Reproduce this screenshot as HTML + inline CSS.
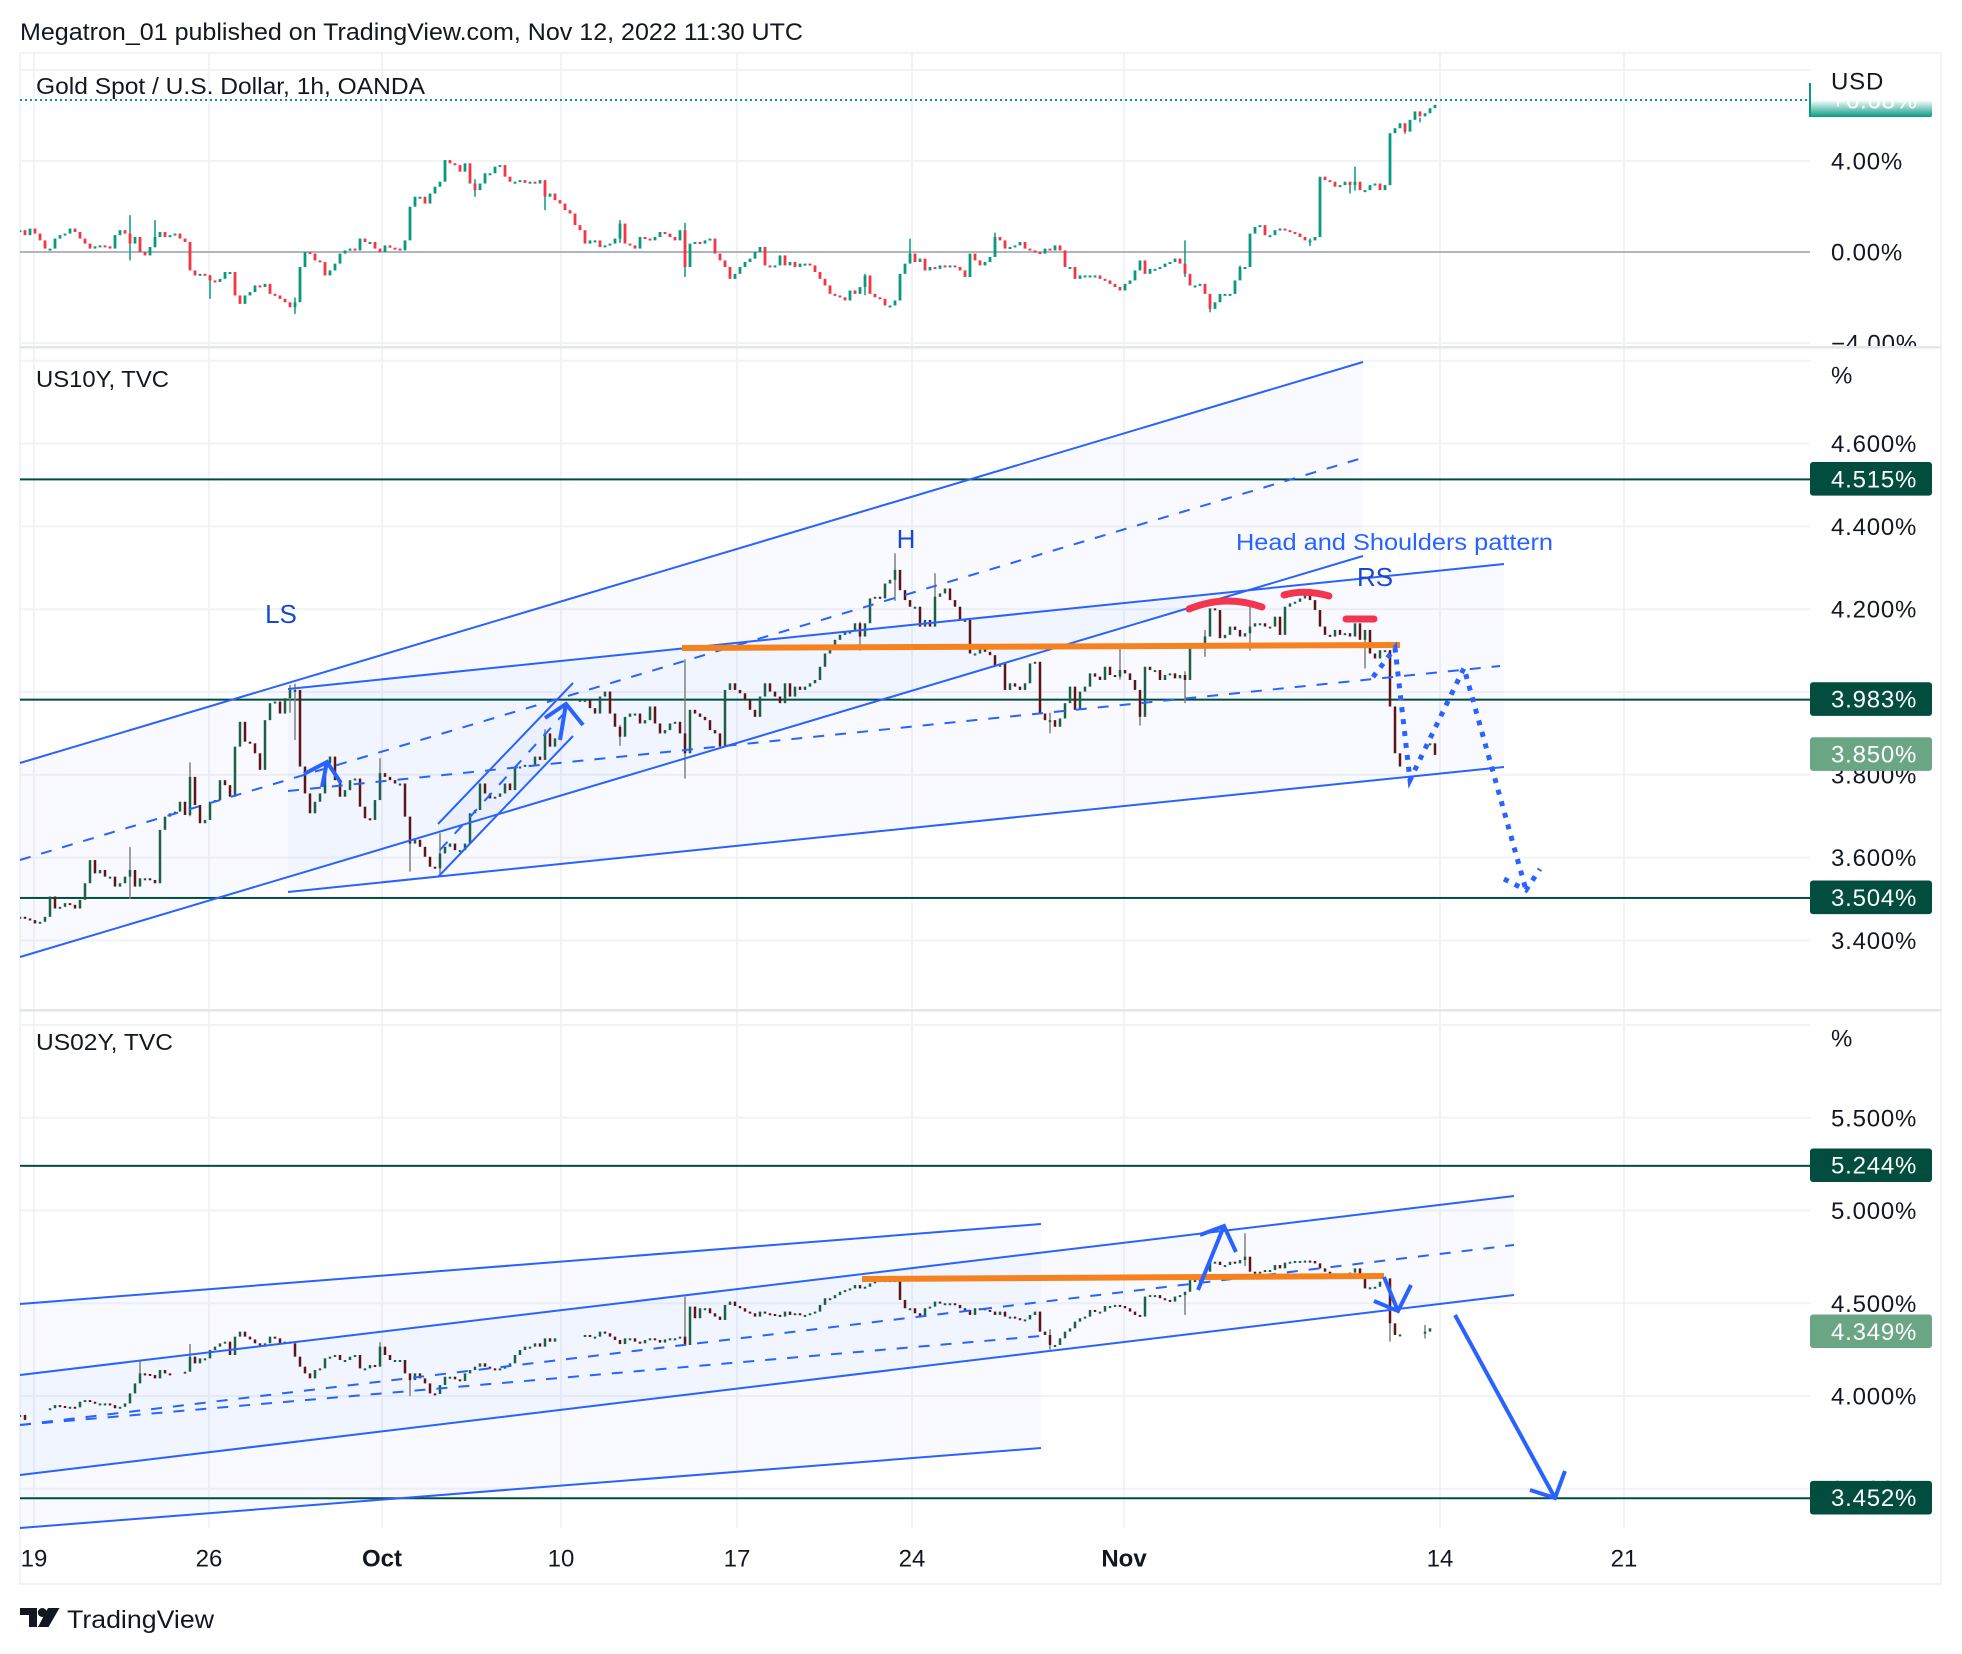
<!DOCTYPE html>
<html lang="en">
<head>
<meta charset="utf-8">
<title>Gold vs US10Y vs US02Y</title>
<style>
html,body{margin:0;padding:0;background:#fff;}
svg{display:block;font-family:"Liberation Sans",sans-serif;}
.ax{font-size:24px;fill:#131722;letter-spacing:.8px;}
.title{font-size:23px;fill:#131722;}
.draw{fill:none;stroke:#2962ff;stroke-width:2;}
.dash{stroke-dasharray:11 11;}
.arrow{fill:none;stroke:#2962ff;stroke-width:4;stroke-linejoin:miter;}
.dots{fill:none;stroke:#2962ff;stroke-width:5;stroke-dasharray:5 7;}
.orange{stroke:#f5821f;stroke-width:6;fill:none;}
.redarc{stroke:#f23650;stroke-width:7;stroke-linecap:round;fill:none;}
.chan{fill:rgba(41,98,255,.03);stroke:none;}
</style>
</head>
<body>
<svg id="root" xmlns="http://www.w3.org/2000/svg" width="1962" height="1654" viewBox="0 0 1962 1654">
  <defs>
    <clipPath id="goldClip"><rect x="20" y="54" width="1790" height="292"/></clipPath>
    <clipPath id="p2Clip"><rect x="20" y="348" width="1790" height="661"/></clipPath>
    <clipPath id="p3Clip"><rect x="20" y="1011" width="1790" height="517"/></clipPath>
    <clipPath id="goldAxisClip"><rect x="1812" y="54" width="128" height="292"/></clipPath>
    <clipPath id="badgeClip"><rect x="1810" y="100" width="122" height="17"/></clipPath>
    <linearGradient id="badgeGrad" x1="0" y1="0" x2="0" y2="1">
      <stop offset="0" stop-color="#089981" stop-opacity="0"/>
      <stop offset="1" stop-color="#089981"/>
    </linearGradient>
  </defs>

  <text x="20" y="40" font-size="24" fill="#131722" textLength="783" lengthAdjust="spacingAndGlyphs">Megatron_01 published on TradingView.com, Nov 12, 2022 11:30 UTC</text>
  <rect x="20" y="53" width="1921" height="1531" fill="none" stroke="#f0f3fa" stroke-width="2"/>

  <g id="grid"></g>
  <g id="fills">
    <polygon class="chan" points="20,763 1363,362 1363,556 20,957"/>
    <polygon class="chan" points="288,689 1504,564 1504,767 288,892"/>
    <polygon class="chan" points="438,824 573,683 573,736 438,877"/>
    <polygon class="chan" points="20,1304 1041,1224 1041,1448 20,1528"/>
    <polygon class="chan" points="20,1375 1514,1196 1514,1295 20,1475"/>
  </g>
  <g id="levels"></g>
  <g id="candlesGold" clip-path="url(#goldClip)"></g>
  <g id="candles10" clip-path="url(#p2Clip)"></g>
  <g id="candles02" clip-path="url(#p3Clip)"></g>

  <g id="drawingsP2">
    <line class="draw" x1="20" y1="763" x2="1363" y2="362"/>
    <line class="draw dash" x1="20" y1="860" x2="1359" y2="459"/>
    <line class="draw" x1="20" y1="957" x2="1363" y2="556"/>
    <line class="draw" x1="288" y1="689" x2="1504" y2="564"/>
    <line class="draw dash" x1="288" y1="791" x2="1500" y2="666"/>
    <line class="draw" x1="288" y1="892" x2="1504" y2="767"/>
    <line class="draw" x1="438" y1="824" x2="573" y2="683"/>
    <line class="draw dash" x1="440" y1="850" x2="567" y2="710"/>
    <line class="draw" x1="438" y1="877" x2="573" y2="736"/>
    <path class="arrow" d="M322 787 L327 762 M304 774 L327 762 L341 783"/>
    <path class="arrow" d="M560 740 L566 704 M545 718 L566 704 L583 725"/>
    <line class="orange" x1="682" y1="648" x2="1400" y2="645"/>
    <path class="redarc" d="M1189 609 Q1225 594 1262 607"/>
    <path class="redarc" d="M1284 595 Q1305 589 1329 596"/>
    <line class="redarc" x1="1346" y1="619" x2="1374" y2="619"/>
    <path class="dots" d="M1373 677 L1395 648 L1410 780 L1464 668 L1526 890 M1504 879 L1526 890 L1540 869"/>
    <text x="281" y="623" font-size="26" fill="#1848cc" text-anchor="middle">LS</text>
    <text x="906" y="548" font-size="26" fill="#1848cc" text-anchor="middle">H</text>
    <text x="1375" y="586" font-size="26" fill="#1848cc" text-anchor="middle">RS</text>
    <text x="1236" y="550" font-size="23" fill="#2962ff" textLength="317" lengthAdjust="spacingAndGlyphs">Head and Shoulders pattern</text>
  </g>

  <g id="drawingsP3">
    <line class="draw" x1="20" y1="1304" x2="1041" y2="1224"/>
    <line class="draw dash" x1="20" y1="1425" x2="1041" y2="1336"/>
    <line class="draw" x1="20" y1="1528" x2="1041" y2="1448"/>
    <line class="draw" x1="20" y1="1375" x2="1514" y2="1196"/>
    <line class="draw dash" x1="20" y1="1425" x2="1514" y2="1245"/>
    <line class="draw" x1="20" y1="1475" x2="1514" y2="1295"/>
    <line class="orange" x1="862" y1="1279" x2="1384" y2="1276"/>
    <path class="arrow" d="M1198 1290 L1224 1226 M1200 1235 L1224 1226 L1236 1252"/>
    <path class="arrow" d="M1384 1277 L1398 1311 M1374 1301 L1398 1311 L1411 1285"/>
    <path class="arrow" d="M1455 1315 L1555 1498 M1530 1490 L1555 1498 L1565 1471"/>
  </g>

  <g id="axes"></g>
  <text class="title" x="36" y="94" textLength="389" lengthAdjust="spacingAndGlyphs">Gold Spot / U.S. Dollar, 1h, OANDA</text>
  <text class="title" x="36" y="387" textLength="133" lengthAdjust="spacingAndGlyphs">US10Y, TVC</text>
  <text class="title" x="36" y="1050" textLength="137" lengthAdjust="spacingAndGlyphs">US02Y, TVC</text>

  <g>
    <path d="M20 1608 H37 V1627 H29 V1615 H20 Z" fill="#131722"/>
    <circle cx="42.3" cy="1612.5" r="4.5" fill="#131722"/>
    <path d="M48 1608 H59.5 L48.5 1627 H38 Z" fill="#131722"/>
    <text x="67" y="1628" font-size="25" fill="#131722" textLength="147" lengthAdjust="spacingAndGlyphs">TradingView</text>
  </g>
</svg>

<script>
/* Gold vs USD, percent change */
const goldCloses = [0.96,.74,1.03,.81,.51,.15,.15,.59,.74,.81,1.03,.88,.59,.37,.15,.25,.29,.25,.15,.74,.96,.81,.37,.66,0,-.15,.22,.66,.88,.66,.74,.81,.59,.44,-.81,-1.03,-.96,-1.03,-1.25,-1.32,-1.18,-.88,-.88,-1.91,-2.28,-1.91,-1.76,-1.47,-1.54,-1.4,-1.84,-1.91,-2.06,-2.21,-2.43,-2.21,-.66,0,-.07,-.37,-.44,-1.03,-.81,-.51,-.07,.07,.15,.07,.59,.44,.44,.15,0,.29,.19,.15,.07,.51,1.99,2.43,2.43,2.13,2.57,2.87,3.09,4.04,3.9,3.82,3.53,3.9,3.01,2.72,3.01,3.46,3.46,3.75,3.82,3.31,3.09,3.09,3.16,3.04,3.09,3.01,3.16,2.43,2.57,2.28,2.13,1.84,1.69,1.18,.96,.37,.51,.51,.22,.29,.37,.59,1.25,.37,.29,.15,.66,.59,.51,.66,.88,.81,.66,.51,.96,-.66,.37,.44,.37,.51,.59,-.07,-.37,-.66,-1.18,-.96,-.66,-.44,-.29,0,.22,-.59,-.66,-.59,-.15,-.59,-.44,-.66,-.51,-.51,-.59,-.88,-1.18,-1.47,-1.84,-1.91,-1.99,-2.13,-1.69,-1.84,-1.54,-1.03,-1.84,-1.99,-2.06,-2.35,-2.35,-2.13,-.96,-.51,-.07,-.44,-.29,-.81,-.66,-.74,-.59,-.66,-.59,-.66,-.81,-1.1,-.07,-.37,-.59,-.44,-.22,.66,.51,.15,.22,.29,.44,.15,.07,0,-.07,.15,.07,.29,.07,-.66,-.66,-1.18,-1.03,-1.03,-1.03,-1.03,-1.18,-1.25,-1.4,-1.54,-1.69,-1.4,-1.25,-.81,-.37,-.96,-.74,-.74,-.66,-.51,-.44,-.29,-.51,-.96,-1.47,-1.47,-1.4,-1.84,-2.5,-2.21,-1.84,-1.84,-1.84,-1.25,-.66,-.66,.81,1.1,1.18,.74,.74,.96,1.03,.96,.88,.81,.66,.51,.51,.66,3.31,3.16,3.09,2.87,2.94,3.09,2.94,3.09,2.72,2.72,2.94,3.01,2.72,2.94,5.22,5.44,5.66,5.29,5.81,6.18,5.96,6.1,6.32,6.47];
const goldWicks = [[22,1.62,-.37],[27,1.4,.2],[38,-1,-2.06],[55,-2,-2.72],[91,3.2,2.43],[105,3,1.84],[120,1.4,.4],[133,1.28,-1.1],[169,-.96,-1.9],[178,.59,-.2],[195,.85,.3],[233,.51,-1.1],[238,-2.2,-2.65],[244,-.6,-1.1],[258,.6,.26],[266,3,2.57],[267,3.75,2.7],[277,5.6,5.2],[280,5.9,5.7]];
const goldTicks = [8,4,0,-4];

/* US 10-year yield, percent */
const us10yCloses = [3.457,3.453,3.449,3.441,3.445,3.457,3.506,3.477,3.481,3.490,3.486,3.477,3.498,3.538,3.594,3.562,3.570,3.554,3.554,3.530,3.538,3.554,3.570,3.530,3.550,3.550,3.546,3.538,3.667,3.699,3.707,3.711,3.735,3.703,3.795,3.727,3.683,3.691,3.735,3.739,3.787,3.775,3.747,3.868,3.928,3.880,3.876,3.852,3.812,3.932,3.973,3.977,3.948,3.985,4.005,4.005,3.820,3.755,3.707,3.735,3.755,3.828,3.844,3.787,3.747,3.763,3.787,3.791,3.723,3.695,3.691,3.739,3.804,3.795,3.787,3.779,3.779,3.699,3.634,3.643,3.626,3.602,3.578,3.574,3.610,3.626,3.634,3.618,3.618,3.634,3.707,3.715,3.779,3.755,3.743,3.747,3.755,3.779,3.763,3.820,3.820,3.824,3.824,3.844,3.836,3.900,3.868,3.888,null,null,null,null,3.981,3.981,3.961,3.948,3.989,4.001,3.948,3.916,3.892,3.940,3.948,3.948,3.924,3.932,3.965,3.924,3.900,3.908,3.924,3.928,3.900,3.852,3.957,3.948,3.940,3.932,3.908,3.900,3.868,4.005,4.021,4.005,3.997,3.981,3.957,3.940,3.989,4.021,4.001,3.989,3.973,4.021,3.989,4.013,4.005,4.013,4.021,4.029,4.061,4.093,4.110,4.126,4.138,4.146,4.146,4.166,4.134,4.166,4.226,4.230,4.226,4.262,4.271,4.295,4.246,4.222,4.206,4.206,4.158,4.174,4.158,4.230,4.238,4.250,4.222,4.206,4.174,4.174,4.093,4.093,4.105,4.097,4.089,4.061,4.069,4.005,4.021,4.013,4.005,4.021,4.069,4.073,3.948,3.932,3.932,3.916,3.936,3.973,4.013,3.957,4.001,4.013,4.045,4.037,4.029,4.061,4.041,4.037,4.053,4.045,4.029,4.005,3.940,4.061,4.053,4.053,4.029,4.041,4.045,4.033,4.041,4.029,4.110,4.110,4.111,4.134,4.202,4.198,4.130,4.138,4.158,4.150,4.134,4.142,4.158,4.166,4.166,4.158,4.158,4.182,4.138,4.206,4.214,4.218,4.226,4.234,4.222,4.198,4.158,4.138,4.134,4.150,4.138,4.142,4.134,4.166,4.126,4.150,4.093,4.081,4.101,4.101,3.965,3.852,3.820,null,null,null,null,null,3.876,3.848];
const us10yWicks = [[22,3.626,3.5],[34,3.83,3.7],[54,4.017,3.95],[55,4.02,3.884],[72,3.84,3.75],[78,3.66,3.566],[84,3.659,3.56],[105,3.91,3.84],[120,3.92,3.87],[133,4.079,3.791],[168,4.17,4.1],[175,4.335,4.22],[183,4.287,4.2],[206,3.95,3.9],[220,4.11,4.03],[224,3.96,3.919],[233,4.05,3.973],[237,4.15,4.085],[246,4.206,4.1],[269,4.13,4.057]];
const us10yTicks = [4.8,4.6,4.4,4.2,4.0,3.8,3.6,3.4];
const us10yHiddenTicks = [4.8];
const us10yLevels = [4.515,3.983,3.504];
const us10yLast = [3.85];

/* US 2-year yield, percent */
const us02yCloses = [3.898,3.871,null,null,null,null,3.934,3.951,3.946,3.939,3.942,3.939,3.969,3.978,3.969,3.960,3.960,3.960,3.951,3.934,3.942,3.960,4.014,4.068,4.122,4.119,4.113,4.095,4.140,4.122,4.119,null,null,4.131,4.212,4.176,4.203,4.203,4.248,4.266,4.284,4.293,4.221,4.320,4.347,4.320,4.305,4.284,4.266,4.284,4.320,4.311,4.284,4.293,4.284,4.212,4.158,4.122,4.095,4.140,4.149,4.203,4.212,4.221,4.194,4.194,4.212,4.221,4.149,4.149,4.167,4.158,4.266,4.221,4.194,4.194,4.194,4.122,4.086,4.122,4.095,4.068,4.014,4.011,4.059,4.104,4.104,4.090,4.081,4.122,4.140,4.158,4.176,4.158,4.149,4.144,4.149,4.158,4.176,4.221,4.248,4.266,4.266,4.284,4.266,4.311,4.293,4.311,null,null,null,null,null,4.329,4.320,4.320,4.347,4.338,4.320,4.302,4.280,4.311,4.311,4.293,4.284,4.302,4.311,4.302,4.288,4.305,4.311,4.311,4.320,4.275,4.482,4.419,4.473,4.473,4.446,4.428,4.410,4.491,4.509,4.485,4.473,4.455,4.446,4.428,4.455,4.446,4.442,4.437,4.428,4.455,4.437,4.446,4.437,4.437,4.446,4.455,4.491,4.527,4.527,4.544,4.562,4.571,4.580,4.598,4.580,4.589,4.607,4.620,4.625,4.625,4.616,4.625,4.518,4.473,4.473,4.446,4.428,4.473,4.482,4.509,4.500,4.500,4.500,4.491,4.473,4.464,4.437,4.473,4.473,4.464,4.455,4.437,4.455,4.428,4.428,4.419,4.413,4.413,4.437,4.455,4.347,4.329,4.275,4.275,4.311,4.347,4.365,4.401,4.419,4.428,4.464,4.455,4.455,4.485,4.485,4.491,4.485,4.473,4.455,4.437,4.428,4.536,4.544,4.544,4.527,4.518,4.509,4.536,4.544,4.562,4.625,4.625,4.629,4.670,4.724,4.724,4.706,4.706,4.724,4.715,4.733,4.751,4.670,4.661,4.670,4.679,4.679,4.706,4.688,4.719,4.724,4.728,4.728,4.730,4.728,4.715,4.688,4.670,4.661,4.658,4.652,4.658,4.665,4.688,4.640,4.580,4.586,4.589,4.616,4.634,4.392,4.329,4.332,null,null,null,null,4.347,4.365];
const us02yWicks = [[24,4.19,4.1],[34,4.28,4.14],[72,4.29,4.2],[78,4.12,4],[133,4.535,4.27],[206,4.36,4.25],[233,4.55,4.437],[245,4.877,4.7],[274,4.6,4.293],[281,4.383,4.31]];
const us02yTicks = [6,5.5,5,4.5,4,3.5];
const us02yHiddenTicks = [6];
const us02yLevels = [5.244,3.452];
const us02yLast = [4.349];

/* Shared time axis: labels and their positions in bar units */
const timeLabels = ['19','26','Oct','10','17','24','Nov','14','21'];
const timeBars = [2.8,37.8,72.4,108.2,143.4,178.4,220.8,284,320.8];
const boldLabels = ['Oct','Nov'];
const goldLastPercent = [6.68];

/* Axis functions */
function xBar(i){ return 20 + 5 * i; }
function yGold(p){ return 252 - p * 22.75; }
function y10(p){ return 692 + (4 - p) * 414; }
function y02(p){ return 1396 + (4 - p) * 185.5; }

const NS = 'http://www.w3.org/2000/svg';
function mk(tag, parent){
  const el = document.createElementNS(NS, tag);
  parent.appendChild(el);
  return el;
}
const gridG = document.getElementById('grid');
const levelsG = document.getElementById('levels');
const axesG = document.getElementById('axes');

function hGrid(y){
  const el = mk('rect', gridG);
  el.setAttribute('x', 20); el.setAttribute('y', y - 1);
  el.setAttribute('width', 1790); el.setAttribute('height', 2);
  el.setAttribute('fill', '#f2f3f7');
  
  
}
function axisLabel(text, y, parent, clip){
  const el = mk('text', parent || axesG);
  el.setAttribute('x', 1831); el.setAttribute('y', y + 8.5);
  el.setAttribute('class', 'ax');
  if (clip) el.setAttribute('clip-path', clip);
  el.textContent = text;
  
  
}

/* Vertical grid and time labels */
timeBars.forEach(function(b, k){
  const line = mk('rect', gridG);
  line.setAttribute('x', xBar(b) - 1); line.setAttribute('y', 54);
  line.setAttribute('width', 2); line.setAttribute('height', 1474);
  line.setAttribute('fill', '#f2f3f7');
  
  
  const t = mk('text', axesG);
  t.setAttribute('x', xBar(b)); t.setAttribute('y', 1566.5);
  t.setAttribute('text-anchor', 'middle');
  t.setAttribute('font-size', '24');
  t.setAttribute('fill', '#131722');
  if (boldLabels.indexOf(timeLabels[k]) >= 0) t.setAttribute('font-weight', '700');
  t.textContent = timeLabels[k];
  
  
});

/* Horizontal grid and price labels */
goldTicks.forEach(function(p){
  hGrid(yGold(p));
  if (p === 8) return;
  const s = (p < 0 ? '\u2212' : '') + Math.abs(p).toFixed(2) + '%';
  axisLabel(s, yGold(p), axesG, 'url(#goldAxisClip)');
});
us10yTicks.forEach(function(p){
  hGrid(y10(p));
  if (us10yHiddenTicks.indexOf(p) < 0) axisLabel(p.toFixed(3) + '%', y10(p));
});
us02yTicks.forEach(function(p){
  hGrid(y02(p));
  if (us02yHiddenTicks.indexOf(p) < 0) axisLabel(p.toFixed(3) + '%', y02(p));
});
axisLabel('USD', 81);
axisLabel('%', 375);
axisLabel('%', 1038);

/* Pane separators */
[347, 1010].forEach(function(y){
  const sep = mk('rect', gridG);
  sep.setAttribute('x', 20); sep.setAttribute('y', y - 1);
  sep.setAttribute('width', 1921); sep.setAttribute('height', 2.5);
  sep.setAttribute('fill', '#e4e6ee');
  
  
});

/* Gold zero line and last price marker */
const zero = mk('rect', levelsG);
zero.setAttribute('x', 20); zero.setAttribute('y', yGold(0) - 1);
zero.setAttribute('width', 1790); zero.setAttribute('height', 2);
zero.setAttribute('fill', '#b2b5be');



const lastDot = mk('line', levelsG);
lastDot.setAttribute('x1', 20); lastDot.setAttribute('x2', 1810);
lastDot.setAttribute('y1', 100); lastDot.setAttribute('y2', 100);
lastDot.setAttribute('stroke', '#089981');
lastDot.setAttribute('stroke-width', 2);
lastDot.setAttribute('stroke-dasharray', '2 3');



const badge = mk('rect', axesG);
badge.setAttribute('x', 1810); badge.setAttribute('y', 100);
badge.setAttribute('width', 122); badge.setAttribute('height', 17);
badge.setAttribute('rx', 2);
badge.setAttribute('fill', 'url(#badgeGrad)');


const badgeTick = mk('rect', axesG);
badgeTick.setAttribute('x', 1809); badgeTick.setAttribute('y', 83);
badgeTick.setAttribute('width', 2); badgeTick.setAttribute('height', 34);
badgeTick.setAttribute('fill', '#089981');


const badgeText = mk('text', axesG);
badgeText.setAttribute('x', 1831); badgeText.setAttribute('y', 108.5);
badgeText.setAttribute('class', 'ax');
badgeText.setAttribute('style', 'fill:#fff');
badgeText.setAttribute('clip-path', 'url(#badgeClip)');
badgeText.textContent = '+' + goldLastPercent[0].toFixed(2) + '%';



/* Horizontal levels and price boxes */
function priceBox(p, yFn, fill){
  const y = yFn(p);
  const box = mk('rect', axesG);
  box.setAttribute('x', 1810); box.setAttribute('y', y - 16.8);
  box.setAttribute('width', 122); box.setAttribute('height', 33.6);
  box.setAttribute('rx', 3);
  box.setAttribute('fill', fill);
  
  
  const t = mk('text', axesG);
  t.setAttribute('x', 1831); t.setAttribute('y', y + 8.5);
  t.setAttribute('class', 'ax');
  t.setAttribute('style', 'fill:#fff');
  t.textContent = p.toFixed(3) + '%';
  
  
}
function hLevel(p, yFn){
  const line = mk('rect', levelsG);
  line.setAttribute('x', 20); line.setAttribute('y', yFn(p) - 0.4);
  line.setAttribute('width', 1790); line.setAttribute('height', 2);
  line.setAttribute('fill', '#004d40');
  
  
  priceBox(p, yFn, '#024d3e');
}
us10yLevels.forEach(function(p){ hLevel(p, y10); });
us02yLevels.forEach(function(p){ hLevel(p, y02); });
us10yLast.forEach(function(p){ priceBox(p, y10, '#6aa584'); });
us02yLast.forEach(function(p){ priceBox(p, y02, '#6aa584'); });

/* Candles */
function drawCandles(parentId, closes, wicks, yFn, up, down, wickColor, w){
  const parent = document.getElementById(parentId);
  wicks.forEach(function(k){
    const wk = mk('line', parent);
    wk.setAttribute('x1', xBar(k[0])); wk.setAttribute('x2', xBar(k[0]));
    wk.setAttribute('y1', yFn(k[1])); wk.setAttribute('y2', yFn(k[2]));
    wk.setAttribute('stroke', wickColor);
    wk.setAttribute('stroke-width', 1.5);
    
    
  });
  let prev = null;
  closes.forEach(function(c, i){
    if (c === null) { prev = null; return; }
    const o = prev === null ? c : prev;
    const yo = yFn(o), yc = yFn(c);
    const top = Math.min(yo, yc);
    const h = Math.max(Math.abs(yo - yc), 2);
    const el = mk('rect', parent);
    el.setAttribute('x', xBar(i) - w / 2); el.setAttribute('y', top);
    el.setAttribute('width', w); el.setAttribute('height', h);
    el.setAttribute('fill', c >= o ? up : down);
    
    
    prev = c;
  });
}
drawCandles('candlesGold', goldCloses, goldWicks, yGold, '#089981', '#f23645', '#089981', 2.8);
drawCandles('candles10', us10yCloses, us10yWicks, y10, '#1f5f45', '#5d1616', '#808080', 2.5);
drawCandles('candles02', us02yCloses, us02yWicks, y02, '#1f5f45', '#5d1616', '#808080', 2.5);
</script>
</body>
</html>
